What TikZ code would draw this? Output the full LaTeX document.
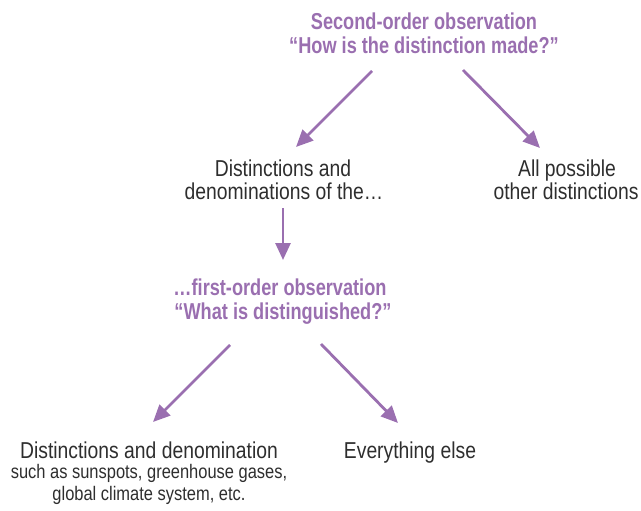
\documentclass[tikz,border=0pt]{standalone}
\usepackage{fontspec}
\setmainfont{Liberation Sans}
\newfontfamily\bodyfont{Liberation Sans}[FakeStretch=0.84]
\newfontfamily\headfont{Liberation Sans}[FakeStretch=0.79]
\usetikzlibrary{arrows.meta}
\definecolor{lilac}{HTML}{9A6FB0}
\definecolor{ink}{HTML}{2E2E2E}
\begin{document}
\begin{tikzpicture}[x=1pt,y=-1pt,
  headtxt/.style={anchor=base,inner sep=0pt,text=lilac,font=\headfont\bfseries\fontsize{23}{24}\selectfont},
  bodytxt/.style={anchor=base,inner sep=0pt,text=ink,font=\bodyfont\fontsize{23}{24}\selectfont},
  smalltxt/.style={anchor=base,inner sep=0pt,text=ink,font=\bodyfont\fontsize{19.6}{21}\selectfont},
  arr/.style={draw=lilac,line width=2.8pt,-{Triangle[length=17pt,width=15pt]}}]
\useasboundingbox (0,0) rectangle (641,511);
% texts
\node[headtxt] (t1) at (424,30) {Second-order observation};
\node[headtxt] (t2) at (424,54) {“How is the distinction made?”};
\node[bodytxt] (l1) at (283,176) {Distinctions and};
\node[bodytxt] (l2) at (284,200) {denominations of the…};
\node[bodytxt] (r1) at (567,176) {All possible};
\node[bodytxt] (r2) at (566,200) {other distinctions};
\node[headtxt] (f1) at (280,295) {…first-order observation};
\node[headtxt] (f2) at (283,319) {“What is distinguished?”};
\node[bodytxt] (b1) at (149,458) {Distinctions and denomination};
\node[smalltxt] (b2) at (149,478) {such as sunspots, greenhouse gases,};
\node[smalltxt] (b3) at (149,500) {global climate system, etc.};
\node[bodytxt] (e1) at (410,458) {Everything else};
% arrow ends
\coordinate (a1s) at (372,71);  \coordinate (a1e) at (296,147);
\coordinate (a2s) at (463,70);  \coordinate (a2e) at (540,148);
\coordinate (a3s) at (283,208); \coordinate (a3e) at (283,260);
\coordinate (a4s) at (230,345); \coordinate (a4e) at (153,422);
\coordinate (a5s) at (321,344); \coordinate (a5e) at (398,423);
\draw[arr] (a1s) -- (a1e);
\draw[arr] (a2s) -- (a2e);
\draw[arr] (a3s) -- (a3e);
\draw[arr] (a4s) -- (a4e);
\draw[arr] (a5s) -- (a5e);
\end{tikzpicture}
\end{document}
